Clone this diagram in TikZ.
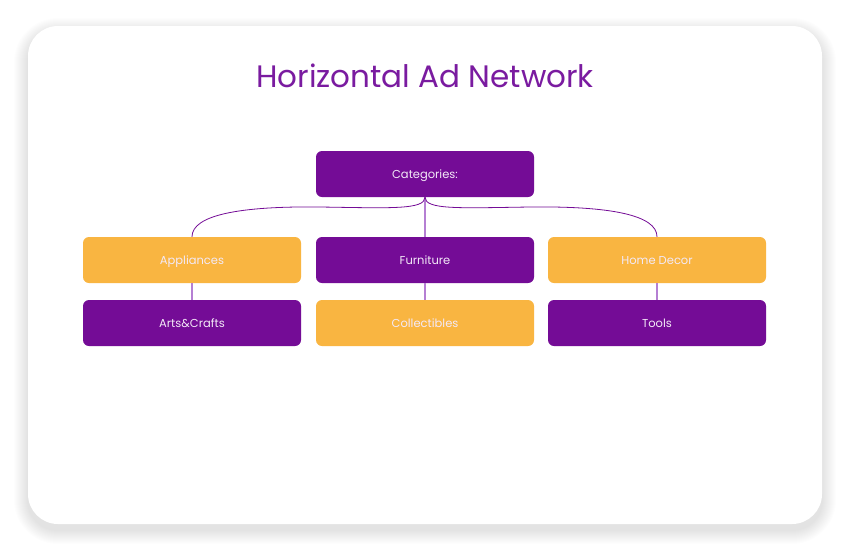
\documentclass[tikz,border=0pt]{standalone}
\usepackage{fontspec}
\setmainfont{Poppins}
\definecolor{pur}{HTML}{740C96}
\definecolor{org}{HTML}{F9B541}
\definecolor{lin}{HTML}{B57FD3}
\definecolor{ttl}{HTML}{7A1BA0}
\definecolor{txt}{HTML}{F3E9F7}
\begin{document}
\begin{tikzpicture}[x=1pt,y=-1pt,
  box/.style={rounded corners=6pt, minimum width=218pt, minimum height=46pt, inner sep=0pt, text=txt, text height=10.5pt, text depth=1pt, font=\fontsize{11.5}{13}\selectfont},
  pbox/.style={box, fill=pur},
  obox/.style={box, fill=org},
  con/.style={draw=pur, line width=0.8pt},
  lcon/.style={draw=lin, line width=1.2pt}]
\useasboundingbox (0,0) rectangle (850,550);
\fill[white] (0,0) rectangle (850,550);
\foreach \i in {1,...,14} {
  \fill[black, opacity=0.008, rounded corners={30pt+\i pt}] (28-\i,32-\i) rectangle (822+\i,530+\i);
}
\node[draw=none, fill=white, rounded corners=30pt, minimum width=794pt, minimum height=498pt, inner sep=0pt]
  (card) at (425,275) {};
\node[text=ttl, font=\fontsize{31}{36}\selectfont] (title) at (425,76) {Horizontal Ad Network};
\node[pbox] (cat) at (425,174) {Categories:};
\node[obox] (app) at (192,260) {Appliances};
\node[pbox] (fur) at (425,260) {Furniture};
\node[obox] (hom) at (657,260) {Home Decor};
\node[pbox] (art) at (192,323) {Arts\&Crafts};
\node[obox] (col) at (425,323) {Collectibles};
\node[pbox] (too) at (657,323) {Tools};
\draw[lcon] (cat.south) -- (fur.north);
\draw[con] (cat.south) .. controls (425,210) and (390,208) .. (320,207) .. controls (240,206) and (192,215) .. (app.north);
\draw[con] (cat.south) .. controls (425,210) and (460,208) .. (530,207) .. controls (610,206) and (657,215) .. (hom.north);
\draw[lcon] (app.south) -- (art.north);
\draw[lcon] (fur.south) -- (col.north);
\draw[lcon] (hom.south) -- (too.north);
\end{tikzpicture}
\end{document}
